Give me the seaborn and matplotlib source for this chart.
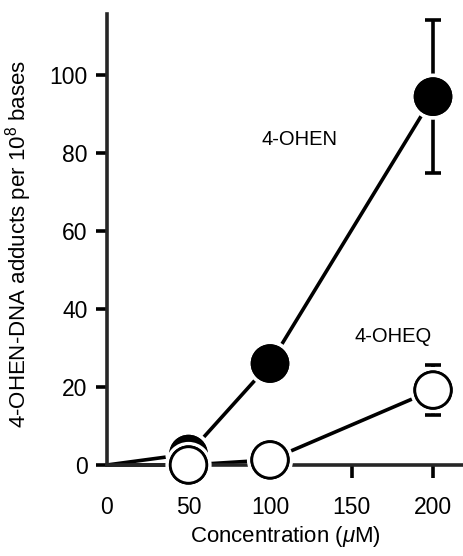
import matplotlib
matplotlib.use("Agg")
import matplotlib.pyplot as plt
import matplotlib.patheffects as pe
import seaborn as sns
import pandas as pd

# Data
concentration = [0, 50, 100, 200]
ohen_adducts = [0, 2.8, 26.0, 94.4]
ohen_err = [0, 0, 0, 19.7]
oheq_adducts = [0, 0, 1.3, 19.2]
oheq_err = [0, 0, 0, 6.5]
x_ticks = [0, 50, 100, 150, 200]
y_ticks = [0, 20, 40, 60, 80, 100]

sns.set_style("ticks")
plt.rcParams['font.family'] = ['Liberation Sans', 'DejaVu Sans']
plt.rcParams['mathtext.fontset'] = 'custom'
plt.rcParams['mathtext.rm'] = 'Liberation Sans'
plt.rcParams['mathtext.it'] = 'Liberation Sans:italic'
plt.rcParams['text.color'] = 'black'
plt.rcParams['axes.labelcolor'] = 'black'
plt.rcParams['xtick.color'] = 'black'
plt.rcParams['ytick.color'] = 'black'

df = pd.DataFrame({
    "conc": concentration * 2,
    "adducts": ohen_adducts + oheq_adducts,
    "series": ["4-OHEN"] * 4 + ["4-OHEQ"] * 4,
})

fig = plt.figure(figsize=(4.64, 5.56), dpi=100)
ax = fig.add_axes([0.2306, 0.1637, 0.7694, 0.8113])

lw = 2.6
halo = [pe.withStroke(linewidth=7, foreground="white")]

# connecting lines
sns.lineplot(data=df, x="conc", y="adducts", hue="series",
             palette={"4-OHEN": "black", "4-OHEQ": "black"},
             linewidth=lw, legend=False, ax=ax, clip_on=False)

# error bars at 200 uM
ax.errorbar([concentration[3]], [ohen_adducts[3]], yerr=[ohen_err[3]],
            fmt="none", ecolor="black", elinewidth=lw, capsize=5.5,
            capthick=lw, zorder=3)
ax.errorbar([concentration[3]], [oheq_adducts[3]], yerr=[oheq_err[3]],
            fmt="none", ecolor="black", elinewidth=lw, capsize=5.5,
            capthick=lw, zorder=3)

# markers (skip origin)
m = ax.scatter(concentration[1:], ohen_adducts[1:], s=690, c="black",
               edgecolors="black", linewidths=1.5, zorder=4, clip_on=False)
m.set_path_effects(halo + [pe.Normal()])
m2 = ax.scatter(concentration[1:], oheq_adducts[1:], s=690, c="white",
                edgecolors="black", linewidths=2.0, zorder=5, clip_on=False)
m2.set_path_effects(halo + [pe.Normal()])

ax.text(118, 83.3, "4-OHEN", fontsize=14.5, ha="center", va="center")
ax.text(175.5, 33, "4-OHEQ", fontsize=14.5, ha="center", va="center")

ax.set_xlim(0, 219)
ax.set_ylim(0, 115.6)
ax.set_xticks(x_ticks)
ax.set_yticks(y_ticks)
ax.tick_params(axis="x", direction="out", length=9, width=lw, pad=13, labelsize=16.5)
ax.tick_params(axis="y", direction="out", length=8, width=lw, pad=6, labelsize=16.5)
ax.xaxis.get_major_ticks()[0].tick1line.set_visible(False)

for side in ["top", "right"]:
    ax.spines[side].set_visible(False)
for side in ["left", "bottom"]:
    ax.spines[side].set_linewidth(lw)
    ax.spines[side].set_zorder(2)

ax.set_xlabel(r"Concentration ($\mu$M)", fontsize=16, labelpad=4)
ax.set_ylabel(r"4-OHEN-DNA adducts per 10$^{8}$ bases", fontsize=16)
ax.yaxis.set_label_coords(-0.205, 0.49)

plt.savefig("out.png", dpi=100)
plt.close()
